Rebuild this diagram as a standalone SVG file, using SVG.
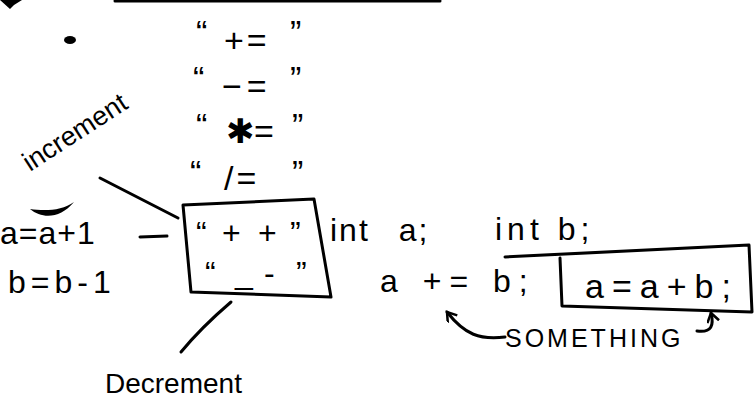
<svg xmlns="http://www.w3.org/2000/svg" width="755" height="408" viewBox="0 0 755 408">
<style>
.t{font-family:"Liberation Sans",Arial,sans-serif;fill:#000;}
.ln{fill:none;stroke:#000;stroke-width:3;stroke-linecap:round;stroke-linejoin:round;}
</style>
<defs>
<marker id="ah" markerWidth="14" markerHeight="14" refX="10" refY="6" orient="auto" markerUnits="userSpaceOnUse">
<path d="M1,0 L10,6 L1,12" fill="none" stroke="#000" stroke-width="2.5"/>
</marker>
</defs>
<rect width="755" height="408" fill="#fff"/>
<g id="connectors">
<path class="ln" d="M115,1 L440,1"/>
<path d="M0,0 L22,0 L14,5 L10,9 Z" fill="#000"/>
<path class="ln" d="M100,178 L178,218"/>
<path class="ln" d="M140,237 L167,236"/>
<path class="ln" d="M231,302 C210,320 195,335 181,352"/>
<path class="ln" d="M505,337 C480,340 465,335 447,312" marker-end="url(#ah)"/>
<path class="ln" d="M697,331 C712,333 714,325 711,313" marker-end="url(#ah)"/>
</g>
<g id="dot"><ellipse cx="70" cy="40" rx="6" ry="4" fill="#000"/></g>
<g id="ops" class="t" font-size="34">
<text y="52"><tspan x="196" dy="-8">“</tspan><tspan x="224" dy="8" letter-spacing="3">+=</tspan><tspan x="290" dy="-8">”</tspan></text>
<text y="98"><tspan x="193" dy="-8">“</tspan><tspan x="222" dy="8" letter-spacing="5">−=</tspan><tspan x="290" dy="-8">”</tspan></text>
<text y="143"><tspan x="196" dy="-6">“</tspan><tspan x="226" dy="6">✱=</tspan><tspan x="292" dy="-6">”</tspan></text>
<text y="190"><tspan x="190" dy="-6">“</tspan><tspan x="224" dy="6" letter-spacing="3">/=</tspan><tspan x="292" dy="-6">”</tspan></text>
</g>
<g id="increment"><text class="t" font-size="27" transform="translate(30,172) rotate(-33)">increment</text></g>
<g id="incdec-left" class="t" font-size="32">
<text x="0" y="244" letter-spacing="1">a=a+1</text>
<text x="8" y="293" letter-spacing="5">b=b-1</text>
<path d="M30,209 C42,219 60,219 74,202 C62,211 44,211 30,209 Z" fill="#000"/>
</g>
<g id="box1">
<path class="ln" d="M183,205 L314,199 L331,297 L191,292 Z"/>
<text class="t" font-size="32" y="244"><tspan x="196">“</tspan><tspan x="222">+</tspan><tspan x="258">+</tspan><tspan x="290">”</tspan></text>
<text class="t" font-size="32" y="284"><tspan x="205">“</tspan><tspan x="235">_</tspan><tspan x="264">-</tspan><tspan x="296">”</tspan></text>
</g>
<g id="decl" class="t" font-size="32">
<text x="330" y="241" letter-spacing="2" word-spacing="18">int a;</text>
<text x="495" y="240" letter-spacing="5">int b;</text>
<text x="380" y="292" letter-spacing="8">a += b;</text>
</g>
<g id="box2">
<path class="ln" d="M505,257 L749,245 L752,312 L562,306 L560,258"/>
<text class="t" font-size="34" x="585" y="298" letter-spacing="8">a=a+b;</text>
</g>
<g id="something"><text class="t" font-size="25" x="505" y="347" letter-spacing="3">SOMETHING</text></g>
<g id="decrement"><text class="t" font-size="28" x="105" y="393">Decrement</text></g>
</svg>
